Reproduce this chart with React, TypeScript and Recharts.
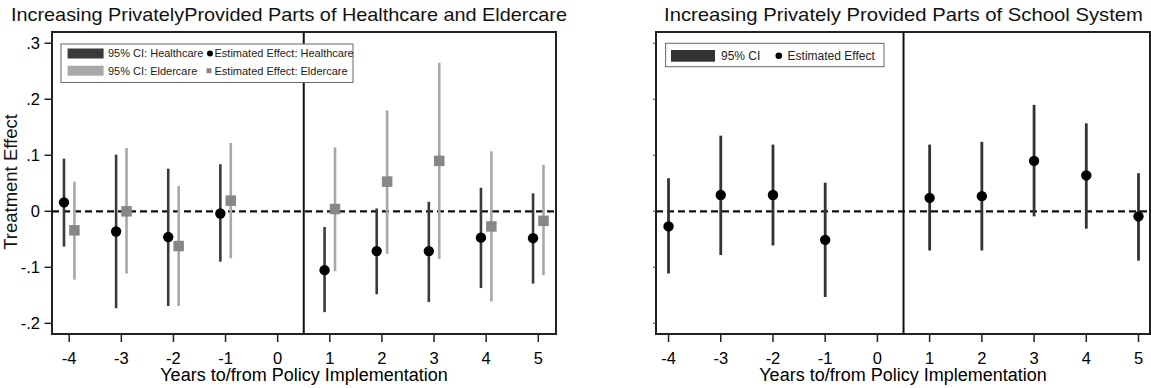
import {
  ErrorBar,
  ReferenceArea,
  ReferenceLine,
  Scatter,
  ScatterChart,
  XAxis,
  YAxis,
} from "recharts";

// event time (0 is the reform year, not estimated)
const years = [-4, -3, -2, -1, 1, 2, 3, 4, 5];
const xTicks = [-4, -3, -2, -1, 0, 1, 2, 3, 4, 5];
const yTicks = [-0.2, -0.1, 0, 0.1, 0.2, 0.3];

const healthEst = [0.016, -0.036, -0.046, -0.004, -0.105, -0.071, -0.071, -0.047, -0.048];
const healthLow = [-0.063, -0.173, -0.169, -0.09, -0.18, -0.148, -0.162, -0.137, -0.129];
const healthHigh = [0.094, 0.101, 0.076, 0.084, -0.028, 0.005, 0.017, 0.042, 0.032];

const elderEst = [-0.034, 0.0, -0.062, 0.019, 0.004, 0.053, 0.09, -0.027, -0.017];
const elderLow = [-0.122, -0.111, -0.169, -0.084, -0.107, -0.076, -0.085, -0.161, -0.114];
const elderHigh = [0.053, 0.113, 0.045, 0.122, 0.114, 0.18, 0.265, 0.107, 0.083];

const schoolEst = [-0.027, 0.029, 0.029, -0.051, 0.024, 0.027, 0.09, 0.064, -0.009];
const schoolLow = [-0.111, -0.078, -0.061, -0.153, -0.07, -0.07, -0.009, -0.031, -0.088];
const schoolHigh = [0.059, 0.135, 0.119, 0.051, 0.119, 0.124, 0.19, 0.157, 0.068];

const FONT = '"Liberation Sans", Arial, sans-serif';
const Y_DOMAIN: [number, number] = [-0.219, 0.32];

const build = (est: number[], low: number[], high: number[], shift: number) =>
  years.map((yr, i) => ({
    x: yr + shift,
    y: est[i],
    ci: [est[i] - low[i], high[i] - est[i]],
  }));

const healthData = build(healthEst, healthLow, healthHigh, -0.1);
const elderData = build(elderEst, elderLow, elderHigh, 0.1);
const schoolData = build(schoolEst, schoolLow, schoolHigh, 0);

const fmtY = (v: number) => (v === 0 ? "0" : v.toFixed(1).replace("0.", "."));

const noShape = () => <g />;
const circle = (r: number, fill: string) => (p: any) => <circle cx={p.cx} cy={p.cy} r={r} fill={fill} />;
const square = (s: number, fill: string) => (p: any) => (
  <rect x={p.cx - s / 2} y={p.cy - s / 2} width={s} height={s} fill={fill} />
);

function frame(xDomain: [number, number]) {
  return [
    <ReferenceArea
      key="frame"
      x1={xDomain[0]}
      x2={xDomain[1]}
      y1={Y_DOMAIN[0]}
      y2={Y_DOMAIN[1]}
      fill="none"
      stroke="#222"
      strokeWidth={2}
    />,
    <ReferenceLine key="zero" y={0} stroke="#111" strokeWidth={2.2} strokeDasharray="7 4" />,
    <ReferenceLine key="reform" x={0.5} stroke="#111" strokeWidth={2} />,
  ];
}

function xAxis(domain: [number, number]) {
  return (
    <XAxis
      type="number"
      dataKey="x"
      domain={domain}
      ticks={xTicks}
      interval={0}
      allowDataOverflow
      axisLine={false}
      tickLine={{ stroke: "#222", strokeWidth: 1.5 }}
      tickSize={8}
      tickMargin={10}
      height={54}
      tick={{ fill: "#000", fontSize: 16.5, fontFamily: FONT }}
      label={{
        value: "Years to/from Policy Implementation",
        position: "insideBottom",
        offset: 7,
        fill: "#000",
        fontSize: 18,
        fontFamily: FONT,
      }}
    />
  );
}

function HealthChart() {
  const xDomain: [number, number] = [-4.33, 5.34];
  return (
    <ScatterChart
      width={580}
      height={388}
      margin={{ top: 32, right: 24, bottom: 0, left: 0 }}
      style={{ position: "absolute", left: 0, top: 0 }}
    >
      {xAxis(xDomain)}
      <YAxis
        type="number"
        dataKey="y"
        domain={Y_DOMAIN}
        ticks={yTicks}
        interval={0}
        allowDataOverflow
        axisLine={false}
        tickLine={{ stroke: "#222", strokeWidth: 1.5 }}
        tickSize={7.5}
        tickMargin={4.5}
        width={52}
        tickFormatter={fmtY}
        tick={{ fill: "#000", fontSize: 16.5, fontFamily: FONT }}
      />
      {frame(xDomain)}
      <Scatter data={healthData} shape={noShape} isAnimationActive={false}>
        <ErrorBar dataKey="ci" direction="y" width={0} stroke="#3a3a3a" strokeWidth={2.6} isAnimationActive={false} />
      </Scatter>
      <Scatter data={elderData} shape={noShape} isAnimationActive={false}>
        <ErrorBar dataKey="ci" direction="y" width={0} stroke="#a8a8a8" strokeWidth={2.6} isAnimationActive={false} />
      </Scatter>
      <Scatter data={healthData} shape={circle(5.2, "#000")} isAnimationActive={false} />
      <Scatter data={elderData} shape={square(10.5, "#878787")} isAnimationActive={false} />
    </ScatterChart>
  );
}

function SchoolChart() {
  const xDomain: [number, number] = [-4.24, 5.22];
  return (
    <ScatterChart
      width={571}
      height={388}
      margin={{ top: 32, right: 1, bottom: 0, left: 0 }}
      style={{ position: "absolute", left: 580, top: 0 }}
    >
      {xAxis(xDomain)}
      <YAxis
        type="number"
        dataKey="y"
        domain={Y_DOMAIN}
        ticks={yTicks}
        interval={0}
        allowDataOverflow
        axisLine={false}
        tickLine={{ stroke: "#444", strokeWidth: 1 }}
        tickSize={3}
        width={76}
        tickFormatter={() => ""}
      />
      {frame(xDomain)}
      <Scatter data={schoolData} shape={noShape} isAnimationActive={false}>
        <ErrorBar dataKey="ci" direction="y" width={0} stroke="#333" strokeWidth={2.8} isAnimationActive={false} />
      </Scatter>
      <Scatter data={schoolData} shape={circle(5.2, "#000")} isAnimationActive={false} />
    </ScatterChart>
  );
}

function Overlay() {
  return (
    <svg
      width={1151}
      height={388}
      style={{ position: "absolute", left: 0, top: 0, pointerEvents: "none", fontFamily: FONT }}
    >
      <text x={11} y={21} fontSize={18.5} fill="#111" textLength={556} lengthAdjust="spacingAndGlyphs">
        Increasing PrivatelyProvided Parts of Healthcare and Eldercare
      </text>
      <text x={664} y={21} fontSize={18.5} fill="#111" textLength={479} lengthAdjust="spacingAndGlyphs">
        Increasing Privately Provided Parts of School System
      </text>
      <text x={16.6} y={182} fontSize={18.5} fill="#111" textAnchor="middle" transform="rotate(-90 16.6 182)">
        Treatment Effect
      </text>

      {/* left legend */}
      <rect x={61} y={44} width={292} height={38.5} fill="#fff" stroke="#666" strokeWidth={1} />
      <rect x={67.6} y={48.5} width={36} height={10} fill="#3a3a3a" />
      <text x={108} y={57.4} fontSize={11} fill="#222">95% CI: Healthcare</text>
      <circle cx={210} cy={53.5} r={3} fill="#000" />
      <text x={214.5} y={57.4} fontSize={11} fill="#222">Estimated Effect: Healthcare</text>
      <rect x={67.6} y={65.7} width={36} height={10} fill="#a8a8a8" />
      <text x={108} y={74.6} fontSize={11} fill="#222">95% CI: Eldercare</text>
      <rect x={206.5} y={68.2} width={5} height={5} fill="#878787" />
      <text x={214.5} y={74.6} fontSize={11} fill="#222">Estimated Effect: Eldercare</text>

      {/* right legend */}
      <rect x={665.6} y={43.3} width={218.4} height={23.4} fill="#fff" stroke="#666" strokeWidth={1} />
      <rect x={671} y={50} width={44} height={11.7} fill="#333" />
      <text x={721} y={60} fontSize={12} fill="#222">95% CI</text>
      <circle cx={778.8} cy={55.8} r={3.3} fill="#000" />
      <text x={787.6} y={60} fontSize={12} fill="#222">Estimated Effect</text>
    </svg>
  );
}

export default function App() {
  return (
    <div
      style={{
        position: "absolute",
        left: 0,
        top: 0,
        width: 1151,
        height: 388,
        background: "#fff",
        fontFamily: FONT,
      }}
    >
      <HealthChart />
      <SchoolChart />
      <Overlay />
    </div>
  );
}
